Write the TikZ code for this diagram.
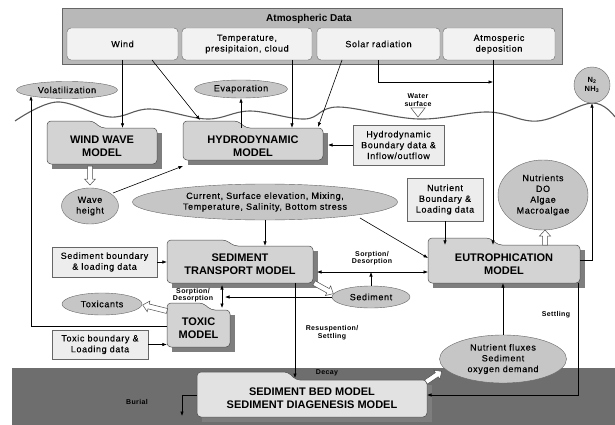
\documentclass[tikz,border=0pt]{standalone}
\usepackage{fontspec}
\setmainfont{Liberation Sans}
\newfontfamily\labf[LetterSpace=7,FakeBold=0.3]{Liberation Sans}
\newfontfamily\smf[LetterSpace=5]{Liberation Sans}
\usetikzlibrary{arrows.meta,calc,shapes.geometric}
\definecolor{atmo}{HTML}{B8B8B8}
\definecolor{subbox}{HTML}{F2F2F2}
\definecolor{ellc}{HTML}{C6C6C6}
\definecolor{datab}{HTML}{EDEDED}
\definecolor{modelc}{HTML}{D3D3D3}
\definecolor{shadowc}{HTML}{7E7E7E}
\definecolor{bedc}{HTML}{6E6E6E}
\definecolor{bedbox}{HTML}{E2E2E2}
\definecolor{wavec}{HTML}{5A5A5A}
\newcommand\mylab{\labf\fontsize{9}{10.8}\selectfont}
\newcommand\mysmall{\smf\bfseries\fontsize{7}{7.6}\selectfont}
\newcommand\mymodel{\bfseries\fontsize{11}{13}\selectfont}
\newcommand\mshape[7]{%
  \fill[shadowc] (#1+5,#4+5) rectangle (#5+5,#6+5);
  \draw[fill=#7, draw=black!70, line width=0.5pt, rounded corners=4pt]
    (#1,#6) -- (#1,#2) -- (#3,#2) -- (#3+8,#4) -- (#5,#4) -- (#5,#6) -- cycle;}
\newcommand\blockarr[4]{%
  \begin{scope}[shift={(#1,#2)},rotate=#3]
    \filldraw[fill=white,draw=black!70,line width=0.5pt]
      (0,2.5) -- (#4-6,2.5) -- (#4-6,5.5) -- (#4,0) -- (#4-6,-5.5) -- (#4-6,-2.5) -- (0,-2.5) -- cycle;
  \end{scope}}
\tikzset{
  arr/.style={-{Latex[length=4.5pt,width=3.5pt]}, line width=0.6pt},
  arrtwo/.style={{Latex[length=4.5pt,width=3.5pt]}-{Latex[length=4.5pt,width=3.5pt]}, line width=0.6pt},
  sub/.style={draw=black!60, fill=subbox, rounded corners=4pt, minimum height=32pt, inner sep=1pt, align=center, font=\mylab},
  ell/.style={ellipse, draw=black!60, fill=ellc, inner sep=0pt, align=center, font=\mylab},
  dbox/.style={draw=black!60, fill=datab, inner sep=1pt, align=center, font=\mylab},
  mnode/.style={inner sep=0pt, align=center, font=\mymodel},
  slab/.style={inner sep=0pt, align=center, font=\mysmall}
}
\begin{document}
\begin{tikzpicture}[x=1pt,y=-1pt]
\useasboundingbox (0,0) rectangle (615,425);
\fill[white] (0,0) rectangle (615,425);
% bottom sediment region
\fill[bedc] (12,368) rectangle (615,425);
% water surface
\draw[wavec, line width=1.1pt] plot[smooth, tension=0.6] coordinates {(15,121) (57,102) (110,117) (150,109) (207,119) (250,111) (305,119) (338,107) (418,119) (488,112) (538,121) (592,103) (615,117)};
\filldraw[fill=white, draw=black!70, line width=0.5pt] (411,108) -- (425,108) -- (418,117) -- cycle;
\node[slab] (wsl) at (418,100) {Water\\surface};
% atmospheric data
\node[fill=atmo, draw=black!60, minimum width=500pt, minimum height=56pt, anchor=north west, inner sep=0pt] (atm) at (62,8) {};
\node[font=\bfseries\fontsize{10}{12}\selectfont] (atmt) at (309,19) {Atmospheric Data};
\node[sub, minimum width=111pt] (wind) at (122.5,44) {Wind};
\node[sub, minimum width=130pt] (temp) at (247,44) {Temperature,\\presipitaion, cloud};
\node[sub, minimum width=123pt] (solar) at (378.5,44) {Solar radiation};
\node[sub, minimum width=112pt] (dep) at (499,44) {Atmosperic\\deposition};
% ellipses
\node[ell, minimum width=101pt, minimum height=17pt] (vol) at (67,90) {Volatilization};
\node[ell, minimum width=93pt, minimum height=18pt] (evap) at (241,89) {Evaporation};
\node[ell, circle, minimum size=36pt, font=\smf\bfseries\fontsize{7.5}{8.5}\selectfont] (n2) at (592,85) {N\textsubscript{2}\\NH\textsubscript{3}};
\node[ell, minimum width=57pt, minimum height=36pt] (wave) at (90,206) {Wave\\height};
\node[ell, minimum width=265pt, minimum height=36pt] (cur) at (265,202) {Current, Surface elevation, Mixing,\\Temperature, Salinity, Bottom stress};
\node[ell, minimum width=90pt, minimum height=70pt] (nut) at (543,195) {Nutrients\\DO\\Algae\\Macroalgae};
\node[ell, minimum width=80pt, minimum height=22pt] (toxc) at (102,304) {Toxicants};
\node[ell, minimum width=78pt, minimum height=22pt] (sed) at (371,297) {Sediment};
\node[ell, minimum width=127pt, minimum height=48pt] (flux) at (503,359) {Nutrient fluxes\\Sediment\\oxygen demand};
% data boxes
\node[dbox, minimum width=91pt, minimum height=40pt] (hbd) at (398.5,145) {Hydrodynamic\\Boundary data \&\\Inflow/outflow};
\node[dbox, minimum width=76pt, minimum height=43pt] (nbd) at (445,199.5) {Nutrient\\Boundary \&\\Loading data};
\node[dbox, minimum width=105pt, minimum height=30pt] (sbd) at (104.5,262) {Sediment boundary\\\& loading data};
\node[dbox, minimum width=96pt, minimum height=29pt] (tbd) at (100,344.5) {Toxic boundary \&\\Loading data};
% models
\mshape{47}{121}{93}{128}{157}{164}{modelc}
\node[mnode, minimum width=110pt, minimum height=36pt] (ww) at (102,146) {WIND WAVE\\MODEL};
\mshape{183}{121}{238}{128}{323}{160}{modelc}
\node[mnode, minimum width=140pt, minimum height=32pt] (hyd) at (253,144) {};
\node[mnode] (hydt) at (253,146) {HYDRODYNAMIC\\MODEL};
\mshape{428}{238}{490}{245}{580}{283}{modelc}
\node[mnode, minimum width=152pt, minimum height=38pt] (eut) at (504,264) {EUTROPHICATION\\MODEL};
\mshape{167}{240}{226}{246}{313}{283}{modelc}
\node[mnode, minimum width=146pt, minimum height=37pt] (stm) at (240,264.5) {SEDIMENT\\TRANSPORT MODEL};
\mshape{167}{303}{203}{310}{230}{347}{modelc}
\node[mnode, minimum width=63pt, minimum height=37pt] (tox) at (198.5,328.5) {TOXIC\\MODEL};
\mshape{197}{372}{288}{380}{427}{417}{bedbox}
\node[mnode, minimum width=230pt, minimum height=37pt] (bed) at (312,398.5) {SEDIMENT BED MODEL\\SEDIMENT DIAGENESIS MODEL};
% helper coordinates
\coordinate (w2) at (152,60);
\coordinate (hydtl) at (200,120);
\coordinate (t1) at (292,60);
\coordinate (s2) at (342,60);
\coordinate (hydtr) at (318,127);
\coordinate (hydsh) at (328,145);
\coordinate (wv1) at (113,193);
\coordinate (hydbl) at (183,166);
\coordinate (c1) at (360,218);
\coordinate (c2) at (428,258);
\coordinate (d1) at (493,60);
\coordinate (d82) at (493,82);
\coordinate (e2) at (580,260);
\coordinate (st1) at (578,283);
\coordinate (st2) at (427,395);
\coordinate (r1) at (295,283);
\coordinate (r2) at (295,378);
\coordinate (b1) at (197,395);
\coordinate (b2) at (182,416);
\coordinate (so1) at (317,272);
\coordinate (so2) at (428,272);
\coordinate (sv1) at (222,285);
\coordinate (sv2) at (222,308);
\coordinate (sl) at (225,297);
\coordinate (v1) at (167,326);
\coordinate (v2) at (31,96);
% connectors
\draw[arr] (wind.south) -- (wind.south |- ww.north);
\draw[arr] (w2) -- (hydtl);
\draw[arr] (t1) -- (t1 |- hyd.north);
\draw[arr] (evap.south |- hyd.north) -- (evap.south);
\draw[arr] (s2) -- (hydtr);
\draw[arr] (hbd.west) -- (hydsh);
\draw[arr] (wv1) -- (hydbl);
\draw[arr] (cur.south) -- (cur.south |- stm.north);
\draw[arr] (c1) -- (c2);
\draw[arr] (nbd.south) -- (nbd.south |- eut.north);
\draw[arr] (d1) -- (d1 |- eut.north);
\draw[arr] (solar.south) |- (d82);
\draw[arr] (e2) -| (n2.south);
\draw[arr] (flux.north) -- (flux.north |- eut.south);
\draw[arr] (st1) |- (st2);
\draw[arr] (r1) -- (r2);
\draw[arr] (b1) -| (b2);
\draw[arr] (sbd.east) -- (sbd.east -| stm.west);
\draw[arrtwo] (so1) -- (so2);
\draw[arr] (sed.north) -- (sed.north |- so1);
\draw[arr] (sed.west) -- (sl);
\draw[arrtwo] (sv1) -- (sv2);
\draw[arr] (tbd.east) -- (tbd.east -| tox.west);
\draw[arr] (v1) -| (v2);
% block arrows
\blockarr{90}{166}{-90}{19}
\blockarr{545}{245}{90}{15}
\blockarr{167}{311}{166}{25}
\blockarr{314}{283}{-29}{22}
\blockarr{426}{382}{34}{19}
% labels
\node[slab] (sorp1) at (372,258) {Sorption/\\Desorption};
\node[slab] (sorp2) at (193,295) {Sorption/\\Desorption};
\node[slab] (resus) at (332,333) {Resuspention/\\Settling};
\node[slab] (settl) at (556,315) {Settling};
\node[slab] (decay) at (327,373) {Decay};
\node[slab] (burial) at (137,402) {Burial};
\end{tikzpicture}
\end{document}
